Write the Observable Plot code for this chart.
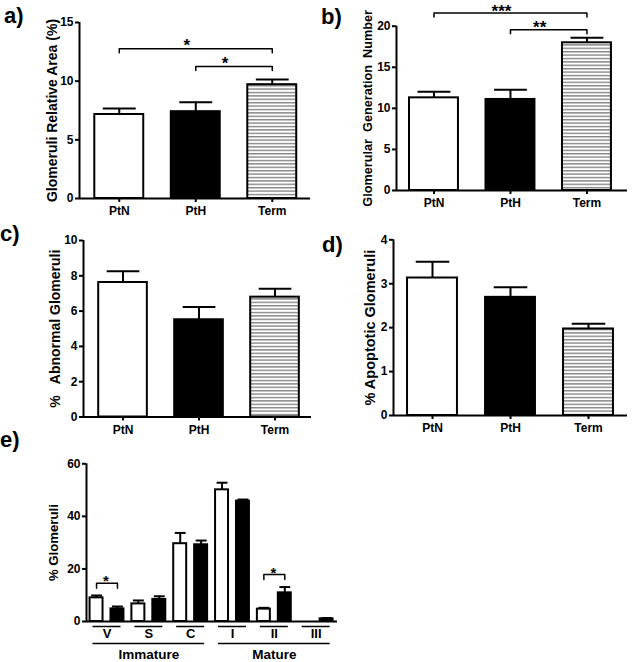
<!DOCTYPE html>
<html>
<head>
<meta charset="utf-8">
<script src="https://cdn.jsdelivr.net/npm/d3@7"></script>
<script src="https://cdn.jsdelivr.net/npm/@observablehq/plot@0.6"></script>
<style>
  html, body { margin: 0; padding: 0; background: #fff; }
  #fig { position: relative; width: 632px; height: 662px; overflow: hidden;
         font-family: "Liberation Sans", Arial, Helvetica, sans-serif; font-weight: bold; color: #000; }
  .plabel { position: absolute; font-size: 22px; font-weight: bold; line-height: 1; }
</style>
</head>
<body>
<div id="fig"></div>
<script>
// ---------------- data ----------------
const groups3 = ["PtN", "PtH", "Term"];

const areaMean = [7.16, 7.40, 9.70];
const areaSem  = [0.50, 0.80, 0.45];
const areaSig  = [
  {from: "PtN", to: "Term", level: 12.76, label: "*"},
  {from: "PtH", to: "Term", level: 11.25, label: "*"}
];

const genMean = [11.28, 11.08, 17.98];
const genSem  = [0.75, 1.17, 0.62];
const genSig  = [
  {from: "PtN", to: "Term", level: 21.6, label: "***"},
  {from: "PtH", to: "Term", level: 19.56, label: "**"}
];

const abnMean = [7.62, 5.51, 6.79];
const abnSem  = [0.64, 0.72, 0.48];

const apoMean = [3.13, 2.69, 1.97];
const apoSem  = [0.37, 0.23, 0.12];

const stages     = ["V", "S", "C", "I", "II", "III"];
const stagePtN   = [9.0, 6.7, 29.6, 50.1, 4.7, 0.0];
const stagePtNse = [0.9, 1.3, 4.1, 2.7, 0.5, 0.0];
const stagePtH   = [4.8, 8.4, 29.2, 45.8, 10.9, 1.0];
const stagePtHse = [0.9, 1.2, 1.6, 0.6, 2.2, 0.3];
const stageSig   = [
  {stage: "V", level: 14.6, label: "*"},
  {stage: "II", level: 17.9, label: "*"}
];
const maturity = [
  {label: "Immature", stages: ["V", "S", "C"]},
  {label: "Mature", stages: ["I", "II", "III"]}
];

// ---------------- helpers ----------------
const FONT = "'Liberation Sans', Arial, Helvetica, sans-serif";
const fig = document.getElementById("fig");

function place(node, left, top) {
  node.style.position = "absolute";
  node.style.left = left + "px";
  node.style.top = top + "px";
  fig.appendChild(node);
}
function panelLabel(txt, left, top) {
  const d = document.createElement("div");
  d.className = "plabel";
  d.textContent = txt;
  d.style.left = left + "px";
  d.style.top = top + "px";
  fig.appendChild(d);
}
function addHatch(svg, id) {
  const defs = d3.select(svg).insert("defs", ":first-child");
  const p = defs.append("pattern").attr("id", id)
    .attr("patternUnits", "userSpaceOnUse").attr("width", 8).attr("height", 3.4);
  p.append("rect").attr("width", 8).attr("height", 3.4).attr("fill", "#fff");
  p.append("rect").attr("width", 8).attr("height", 1.4).attr("fill", "#858585");
}

const BAR_HALF = 0.32;   // half bar width, in category units
const CAP_HALF = 0.215;  // half error-cap width

function groupPanel(cfg) {
  const {means, sems, sig = [], yMax, yTicks, yLabel, labelSize, labelDx,
         width, height, ml, mr, mt, mb, xDomain, hatchId, starDy = -3} = cfg;
  const rows = groups3.map((g, i) => ({i, group: g, mean: means[i], top: means[i] + sems[i]}));
  const fills = {PtN: "white", PtH: "black", Term: `url(#${hatchId})`};
  const drop = 4 * yMax / (height - mt - mb);
  const idx = g => groups3.indexOf(g);
  const bracketPts = sig.flatMap((s, k) => [
    {k, x: idx(s.from), y: s.level - drop},
    {k, x: idx(s.from), y: s.level},
    {k, x: idx(s.to), y: s.level},
    {k, x: idx(s.to), y: s.level - drop}
  ]);
  const svg = Plot.plot({
    width, height, marginLeft: ml, marginRight: mr, marginTop: mt, marginBottom: mb,
    style: {background: "transparent", overflow: "visible", fontFamily: FONT, fontWeight: "bold", fontSize: "12px", color: "black"},
    x: {type: "linear", domain: xDomain, axis: null},
    y: {type: "linear", domain: [0, yMax], axis: null},
    color: {type: "identity"},
    marks: [
      Plot.rect(rows, {x1: d => d.i - BAR_HALF, x2: d => d.i + BAR_HALF, y1: d => 0, y2: "mean",
                       fill: d => fills[d.group], stroke: "black", strokeWidth: 2}),
      Plot.ruleX(rows, {x: "i", y1: "mean", y2: "top", stroke: "black", strokeWidth: 2}),
      Plot.link(rows, {x1: d => d.i - CAP_HALF, x2: d => d.i + CAP_HALF, y1: "top", y2: "top",
                       stroke: "black", strokeWidth: 2}),
      Plot.line(bracketPts, {x: "x", y: "y", z: "k", stroke: "black", strokeWidth: 1.5}),
      Plot.text(sig, {x: d => (idx(d.from) + idx(d.to)) / 2, y: "level", text: "label",
                      dx: -9, dy: starDy, fontSize: 17, fontWeight: "bold"}),
      Plot.ruleY([0], {stroke: "black", strokeWidth: 2}),
      Plot.ruleX([xDomain[0]], {stroke: "black", strokeWidth: 2}),
      Plot.axisY({ticks: yTicks, tickSize: 4, tickPadding: 2, label: null, fontSize: 12,
                  fontWeight: "bold", strokeWidth: 2, tickFormat: d => d}),
      Plot.axisX({ticks: [0, 1, 2], tickFormat: i => groups3[i], tickSize: 4, tickPadding: 4,
                  label: null, fontSize: 12, fontWeight: "bold", strokeWidth: 2}),
      Plot.text([yLabel], {frameAnchor: "left", textAnchor: "middle", rotate: -90, dx: labelDx,
                           fontSize: labelSize, fontWeight: "bold", text: d => d})
    ]
  });
  addHatch(svg, hatchId);
  return svg;
}

// ---------------- panels a-d ----------------
place(groupPanel({means: areaMean, sems: areaSem, sig: areaSig, yMax: 15, yTicks: [0, 5, 10, 15],
  yLabel: "Glomeruli Relative Area (%)", labelSize: 14, labelDx: -27,
  width: 320, height: 222, ml: 79, mr: 10, mt: 22, mb: 24, xDomain: [-0.52, 2.5], hatchId: "hatchA"}), 0, 0);

place(groupPanel({means: genMean, sems: genSem, sig: genSig, yMax: 20, yTicks: [0, 5, 10, 15, 20],
  yLabel: "Glomerular\u00a0 Generation\u00a0 Number", labelSize: 12.7, labelDx: -29, starDy: -2,
  width: 312, height: 215, ml: 76, mr: 5, mt: 25.7, mb: 25, xDomain: [-0.49, 2.53], hatchId: "hatchB"}), 320, 0);

place(groupPanel({means: abnMean, sems: abnSem, yMax: 10, yTicks: [0, 2, 4, 6, 8, 10],
  yLabel: "%\u00a0\u00a0 Abnormal Glomeruli", labelSize: 14, labelDx: -28,
  width: 320, height: 220, ml: 83, mr: 9, mt: 20, mb: 23.5, xDomain: [-0.52, 2.48], hatchId: "hatchC"}), 0, 220);

place(groupPanel({means: apoMean, sems: apoSem, yMax: 4, yTicks: [0, 1, 2, 3, 4],
  yLabel: "% Apoptotic Glomeruli", labelSize: 14.5, labelDx: -23,
  width: 312, height: 220, ml: 73, mr: 5, mt: 19.3, mb: 25, xDomain: [-0.5, 2.5], hatchId: "hatchD"}), 320, 220);

// ---------------- panel e ----------------
(function () {
  const EH = 0.155, EC = 0.13, UL = 0.335, OFF = 0.25;
  const width = 360, height = 222, ml = 86, mr = 23, mt = 23.3, mb = 41;
  const yMax = 60;
  const sIdx = s => stages.indexOf(s);
  const rows = stages.flatMap((s, k) => [
    {k, x: k - OFF, fill: "white", mean: stagePtN[k], top: stagePtN[k] + stagePtNse[k]},
    {k, x: k + OFF, fill: "black", mean: stagePtH[k], top: stagePtH[k] + stagePtHse[k]}
  ]);
  const errRows = rows.filter(d => d.top > d.mean);
  const drop = 5 * yMax / (height - mt - mb);
  const bracketPts = stageSig.flatMap((s, j) => {
    const k = sIdx(s.stage);
    return [
      {j, x: k - OFF, y: s.level - drop}, {j, x: k - OFF, y: s.level},
      {j, x: k + OFF, y: s.level}, {j, x: k + OFF, y: s.level - drop}
    ];
  });
  const svg = Plot.plot({
    width, height, marginLeft: ml, marginRight: mr, marginTop: mt, marginBottom: mb,
    style: {background: "transparent", overflow: "visible", fontFamily: FONT, fontWeight: "bold", fontSize: "12px", color: "black"},
    x: {type: "linear", domain: [-0.49, 5.51], axis: null},
    y: {type: "linear", domain: [0, yMax], axis: null},
    color: {type: "identity"},
    marks: [
      Plot.rect(rows, {x1: d => d.x - EH, x2: d => d.x + EH, y1: d => 0, y2: "mean",
                       fill: "fill", stroke: "black", strokeWidth: 2}),
      Plot.ruleX(errRows, {x: "x", y1: "mean", y2: "top", stroke: "black", strokeWidth: 2}),
      Plot.link(errRows, {x1: d => d.x - EC, x2: d => d.x + EC, y1: "top", y2: "top",
                          stroke: "black", strokeWidth: 2}),
      Plot.line(bracketPts, {x: "x", y: "y", z: "j", stroke: "black", strokeWidth: 1.5}),
      Plot.text(stageSig, {x: d => sIdx(d.stage), y: "level", text: "label", dy: -1.5, dx: -1,
                           fontSize: 15, fontWeight: "bold"}),
      Plot.ruleY([0], {stroke: "black", strokeWidth: 2}),
      Plot.ruleX([-0.49], {stroke: "black", strokeWidth: 2}),
      Plot.axisY({ticks: [0, 20, 40, 60], tickSize: 4, tickPadding: 2, label: null, fontSize: 12,
                  fontWeight: "bold", strokeWidth: 2, tickFormat: d => d}),
      // stage labels and their underlines
      Plot.ruleY(stages, {x1: (d, i) => i - UL, x2: (d, i) => i + UL, y: d => 0, dy: 5,
                          stroke: "black", strokeWidth: 1.5}),
      Plot.text(stages, {x: (d, i) => i, frameAnchor: "bottom", dy: 16, text: d => d,
                         fontSize: 13, fontWeight: "bold"}),
      // maturity groups
      Plot.ruleY(maturity, {x1: d => sIdx(d.stages[0]) - UL, x2: d => sIdx(d.stages[d.stages.length - 1]) + UL,
                            y: d => 0, dy: 22, stroke: "black", strokeWidth: 1.5}),
      Plot.text(maturity, {x: d => d3.mean(d.stages, sIdx), frameAnchor: "bottom", dy: 37.5,
                           text: "label", fontSize: 13.5, fontWeight: "bold"}),
      Plot.text(["% Glomeruli"], {frameAnchor: "left", textAnchor: "middle", rotate: -90, dx: -33,
                                  fontSize: 13.2, fontWeight: "bold", text: d => d})
    ]
  });
  place(svg, 0, 440);
})();

// ---------------- panel labels ----------------
panelLabel("a)", 4, 5);
panelLabel("b)", 321, 6);
panelLabel("c)", 0, 223);
panelLabel("d)", 322, 234);
panelLabel("e)", 0, 429);
</script>
</body>
</html>
